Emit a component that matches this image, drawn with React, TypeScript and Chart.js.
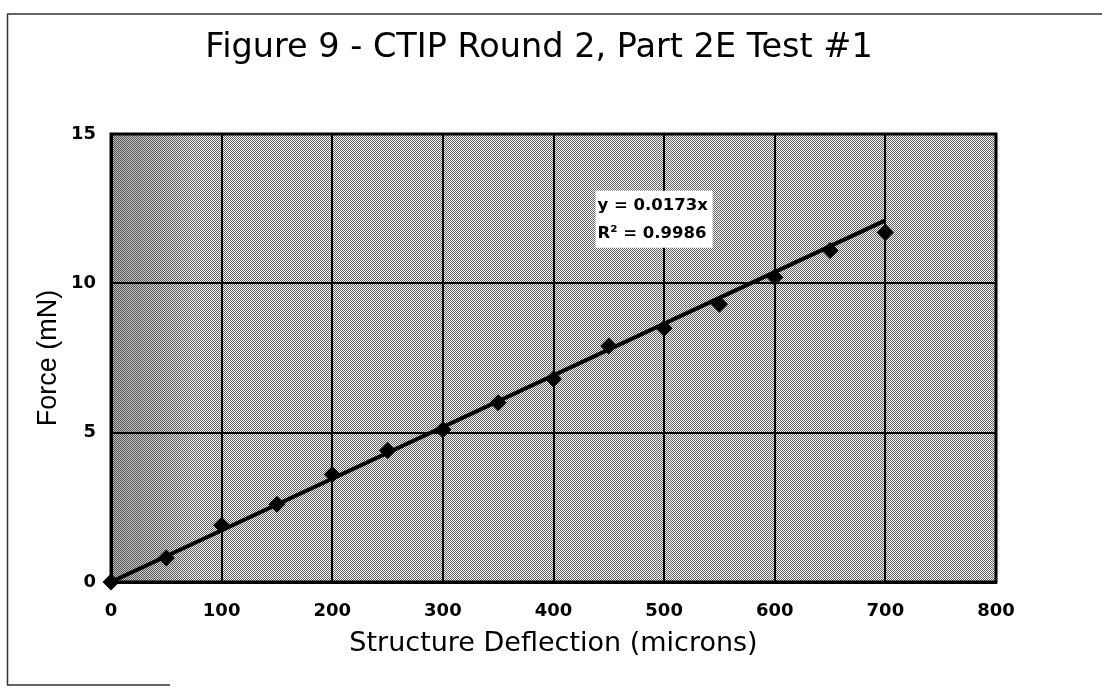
import React, { useEffect, useRef } from "react";
import { Chart, registerables } from "chart.js";

Chart.register(...registerables);

// ---- data ----
const deflection = [0, 50, 100, 150, 200, 250, 300, 350, 400, 450, 500, 550, 600, 650, 700];
const force = [0, 0.8, 1.9, 2.6, 3.6, 4.4, 5.1, 6.0, 6.8, 7.9, 8.5, 9.3, 10.2, 11.1, 11.7];
const trendSlope = 0.0173;
const trendX = [0, 700];
const trendY = trendX.map((x) => x * trendSlope);
const xMin = 0;
const xMax = 800;
const xStep = 100;
const yMin = 0;
const yMax = 15;
const yStep = 5;
const titleText = "Figure 9 - CTIP Round 2, Part 2E Test #1";
const xTitle = "Structure Deflection (microns)";
const yTitle = "Force (mN)";
const equationLines = ["y = 0.0173x", "R\u00B2 = 0.9986"];

const FONT = "'DejaVu Sans', 'Liberation Sans', Arial, sans-serif";

function makePattern(ctx: CanvasRenderingContext2D) {
  const c = document.createElement("canvas");
  c.width = 2;
  c.height = 2;
  const p = c.getContext("2d")!;
  p.fillStyle = "#f4f4f4";
  p.fillRect(0, 0, 2, 2);
  p.fillStyle = "#666666";
  p.fillRect(0, 0, 1, 1);
  p.fillRect(1, 1, 1, 1);
  return ctx.createPattern(c, "repeat");
}

const decorPlugin = {
  id: "decor",
  beforeDraw(chart: any) {
    const { ctx, chartArea: a } = chart;
    ctx.save();
    ctx.fillStyle = "#ffffff";
    ctx.fillRect(0, 0, chart.width, chart.height);
    // outer frame
    ctx.strokeStyle = "#333333";
    ctx.lineWidth = 1.5;
    ctx.beginPath();
    ctx.moveTo(7, 14);
    ctx.lineTo(chart.width, 14);
    ctx.moveTo(7.5, 14);
    ctx.lineTo(7.5, 685);
    ctx.moveTo(7, 685);
    ctx.lineTo(170, 685);
    ctx.stroke();
    // chart title
    ctx.fillStyle = "#000";
    ctx.font = "33.5px " + FONT;
    ctx.textAlign = "center";
    ctx.textBaseline = "middle";
    ctx.fillText(titleText, 539, 48);
    // plot background
    const pat = makePattern(ctx);
    if (pat) {
      ctx.fillStyle = pat;
      ctx.fillRect(a.left, a.top, a.right - a.left, a.bottom - a.top);
    }
    const g = ctx.createLinearGradient(a.left, 0, a.left + 90, 0);
    g.addColorStop(0, "rgba(0,0,0,0.22)");
    g.addColorStop(0.5, "rgba(0,0,0,0.14)");
    g.addColorStop(1, "rgba(0,0,0,0)");
    ctx.fillStyle = g;
    ctx.fillRect(a.left, a.top, 90, a.bottom - a.top);
    ctx.restore();
  },
  beforeDatasetsDraw(chart: any) {
    const { ctx, chartArea: a } = chart;
    ctx.save();
    ctx.strokeStyle = "#000";
    ctx.lineWidth = 3;
    ctx.strokeRect(a.left, a.top, a.right - a.left, a.bottom - a.top);
    ctx.restore();
  },
  afterDatasetsDraw(chart: any) {
    const { ctx } = chart;
    const xs = chart.scales.x;
    const ys = chart.scales.y;
    const bx = xs.getPixelForValue(438);
    const by = ys.getPixelForValue(13.1);
    ctx.save();
    ctx.fillStyle = "#ffffff";
    ctx.fillRect(bx, by, 117, 57);
    ctx.fillStyle = "#000";
    ctx.font = "bold 16.5px " + FONT;
    ctx.textBaseline = "middle";
    ctx.textAlign = "left";
    ctx.fillText(equationLines[0], bx + 2, by + 15);
    ctx.fillText(equationLines[1], bx + 2, by + 43);
    ctx.restore();
  },
};

export default function App() {
  const ref = useRef<HTMLCanvasElement | null>(null);
  useEffect(() => {
    if (!ref.current) return;
    const chart = new Chart(ref.current, {
      type: "scatter",
      data: {
        datasets: [
          {
            label: "Trend",
            data: trendX.map((x, i) => ({ x, y: trendY[i] })),
            showLine: true,
            borderColor: "#000",
            borderWidth: 4,
            pointRadius: 0,
            clip: false as any,
          },
          {
            label: "Force",
            data: deflection.map((x, i) => ({ x, y: force[i] })),
            pointStyle: "rectRot",
            pointRadius: 8.5,
            backgroundColor: "#000",
            borderColor: "#000",
            borderWidth: 0,
            clip: false as any,
          },
        ],
      },
      options: {
        responsive: false,
        animation: false,
        layout: { padding: { left: 28, right: 106, top: 134, bottom: 24 } },
        plugins: {
          legend: { display: false },
          tooltip: { enabled: false },
          title: { display: false },
        },
        scales: {
          x: {
            type: "linear",
            min: xMin,
            max: xMax,
            ticks: {
              stepSize: xStep,
              color: "#000",
              padding: 19,
              font: { family: FONT, size: 18, weight: "bold" as any },
            },
            grid: { color: "#000", lineWidth: 2, drawTicks: false },
            border: { display: true, color: "#000", width: 3 },
            title: {
              display: true,
              text: xTitle,
              color: "#000",
              font: { family: FONT, size: 27, weight: "normal" as any },
              padding: { top: 4, bottom: 4 },
            },
            afterFit(scale: any) {
              scale.height = 82;
            },
          },
          y: {
            type: "linear",
            min: yMin,
            max: yMax,
            ticks: {
              stepSize: yStep,
              color: "#000",
              padding: 15,
              font: { family: FONT, size: 18, weight: "bold" as any },
            },
            grid: { color: "#000", lineWidth: 2, drawTicks: false },
            border: { display: true, color: "#000", width: 3 },
            title: {
              display: true,
              text: yTitle,
              color: "#000",
              font: { family: "'Liberation Sans', Arial, sans-serif", size: 27, weight: "normal" as any },
              padding: { top: 4, bottom: 4 },
            },
            afterFit(scale: any) {
              scale.width = 83;
            },
          },
        },
      },
      plugins: [decorPlugin],
    });
    return () => chart.destroy();
  }, []);
  return (
    <div style={{ position: "absolute", left: 0, top: 0, width: 1102, height: 688, background: "#fff" }}>
      <canvas ref={ref} width={1102} height={688} style={{ display: "block" }} />
    </div>
  );
}
